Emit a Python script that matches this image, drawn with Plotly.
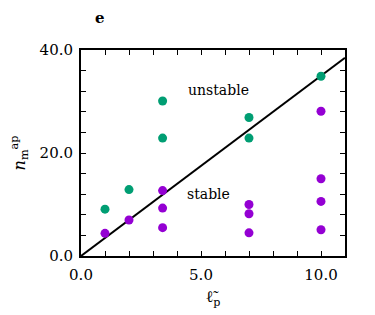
import plotly.graph_objects as go

# data
unstable_x = [1, 2, 3.4, 3.4, 7, 7, 10]
unstable_y = [9.1, 12.9, 30.1, 22.9, 26.9, 22.9, 34.9]
stable_x = [1, 2, 3.4, 3.4, 3.4, 7, 7, 7, 10, 10, 10, 10]
stable_y = [4.4, 7.0, 12.7, 9.3, 5.5, 10.0, 8.2, 4.5, 28.1, 15.0, 10.6, 5.1]
line_x = [0, 11]
slope = 3.5
line_y = [slope * v for v in line_x]

font = "DejaVu Serif"
fig = go.Figure()
fig.add_trace(go.Scatter(x=line_x, y=line_y, mode="lines",
                         line=dict(color="black", width=2), showlegend=False))
fig.add_trace(go.Scatter(x=unstable_x, y=unstable_y, mode="markers",
                         marker=dict(color="rgb(0,158,115)", size=9), showlegend=False))
fig.add_trace(go.Scatter(x=stable_x, y=stable_y, mode="markers",
                         marker=dict(color="rgb(148,0,211)", size=9), showlegend=False))

fig.add_annotation(x=5.74, y=32.2, text="unstable", showarrow=False,
                   font=dict(family=font, size=14, color="black"))
fig.add_annotation(x=5.3, y=12.1, text="stable", showarrow=False,
                   font=dict(family=font, size=14, color="black"))
fig.add_annotation(x=(100 - 81) / 264, y=1 + (50 - 17) / 211, xref="paper", yref="paper",
                   text="<b>e</b>", showarrow=False, xanchor="center", yanchor="middle",
                   font=dict(family=font, size=15, color="black"))

axis_common = dict(showline=True, linecolor="black", linewidth=2, mirror="allticks",
                   ticks="inside", ticklen=5, tickwidth=1.2, tickcolor="black",
                   showgrid=False, zeroline=False, tickformat=".1f",
                   tickfont=dict(family=font, size=15, color="black"))
fig.update_xaxes(range=[0, 11], dtick=5, tick0=0, ticklabelstandoff=4,
                 minor=dict(dtick=1, ticks="inside", ticklen=5, tickcolor="black", tickwidth=1.2),
                 title=dict(text="ℓ̃<sub>p</sub>", font=dict(family=font, size=16, color="black"), standoff=8),
                 **axis_common)
fig.update_yaxes(range=[0, 40], dtick=20, tick0=0, ticklabelstandoff=3,
                 minor=dict(dtick=4, ticks="inside", ticklen=5, tickcolor="black", tickwidth=1.2),
                 title=dict(text="<i>n</i><sub>m</sub><sup>ap</sup>", font=dict(family=font, size=16, color="black"), standoff=10),
                 **axis_common)
fig.update_layout(width=375, height=315, margin=dict(l=81, r=30, t=50, b=54),
                  plot_bgcolor="white", paper_bgcolor="white",
                  font=dict(family=font, color="black"))
fig.write_html("out.html")
